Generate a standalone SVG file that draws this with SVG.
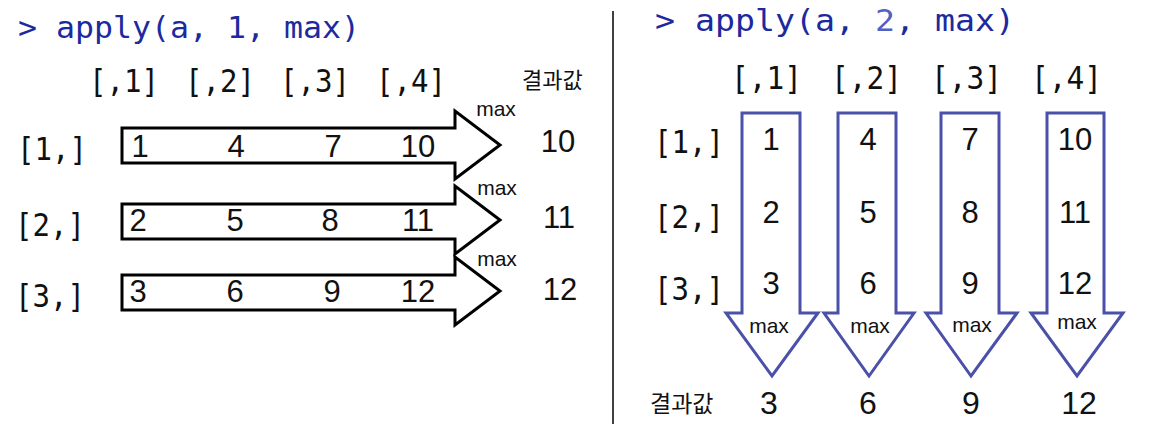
<svg xmlns="http://www.w3.org/2000/svg" width="1151" height="435" viewBox="0 0 1151 435">
<style>
  .mono { font-family: "DejaVu Sans Mono", "Liberation Mono", monospace; }
  .title { fill: #1c2a9e; font-size: 30px; }
  .lbl { font-size: 32px; fill: #111; }
  .val { font-family: "Liberation Sans", "Noto Sans", sans-serif; font-size: 31px; fill: #111; text-anchor: middle; }
  .res { font-family: "Liberation Sans", "Noto Sans", sans-serif; font-size: 31px; fill: #111; text-anchor: middle; }
  .max { font-family: "Liberation Sans", "Noto Sans", sans-serif; font-size: 21px; fill: #111; text-anchor: middle; }
  .ko { font-family: "Noto Sans CJK KR", "Noto Sans", sans-serif; font-size: 22px; fill: #111; }
  .arrL { fill: #fff; stroke: #000; stroke-width: 3; stroke-linejoin: miter; }
  .arrR { fill: #fff; stroke: #4b50a8; stroke-width: 3; stroke-linejoin: miter; }
</style>
<rect width="1151" height="435" fill="#fff"/>

<g id="divider"><line x1="613" y1="11" x2="613" y2="424" stroke="#000" stroke-width="1.5"/></g>

<g id="connectors">
  <polygon id="arrow-row1" class="arrL" points="122,128 455,128 455,111 500,145 455,179 455,163 122,163"/>
  <polygon id="arrow-row2" class="arrL" points="122,204 455,204 455,186 500,220 455,254 455,239 122,239"/>
  <polygon id="arrow-row3" class="arrL" points="122,275 455,275 455,257 500,291 455,325 455,310 122,310"/>
  <polygon id="arrow-col1" class="arrR" points="742,113 800,113 800,313 818,313 772,376 726,313 742,313"/>
  <polygon id="arrow-col2" class="arrR" points="838,113 896,113 896,313 914,313 869,376 824,313 838,313"/>
  <polygon id="arrow-col3" class="arrR" points="941,113 999,113 999,313 1017,313 971,376 926,313 941,313"/>
  <polygon id="arrow-col4" class="arrR" points="1047,113 1104,113 1104,313 1123,313 1077,376 1031,313 1047,313"/>
</g>

<g id="left-panel">
  <g id="title-left"><text class="mono title" x="18" y="38" textLength="342" lengthAdjust="spacingAndGlyphs">&gt; apply(a, 1, max)</text></g>
  <g id="header-left" class="mono lbl">
    <text x="89" y="92" textLength="70" lengthAdjust="spacingAndGlyphs">[,1]</text>
    <text x="185" y="92" textLength="70" lengthAdjust="spacingAndGlyphs">[,2]</text>
    <text x="280" y="92" textLength="70" lengthAdjust="spacingAndGlyphs">[,3]</text>
    <text x="376" y="92" textLength="70" lengthAdjust="spacingAndGlyphs">[,4]</text>
  </g>
  <g id="result-label-left"><text class="ko" x="522" y="88">결과값</text></g>
  <g id="rows-left" class="mono lbl">
    <text x="17" y="160" textLength="70" lengthAdjust="spacingAndGlyphs">[1,]</text>
    <text x="15" y="236" textLength="70" lengthAdjust="spacingAndGlyphs">[2,]</text>
    <text x="15" y="307" textLength="70" lengthAdjust="spacingAndGlyphs">[3,]</text>
  </g>
  <g id="values-row1" class="val">
    <text x="140" y="157">1</text><text x="236" y="157">4</text><text x="333" y="157">7</text><text x="418" y="157">10</text>
  </g>
  <g id="values-row2" class="val">
    <text x="138" y="231">2</text><text x="235" y="231">5</text><text x="330" y="231">8</text><text x="418" y="231">11</text>
  </g>
  <g id="values-row3" class="val">
    <text x="138" y="302">3</text><text x="235" y="302">6</text><text x="332" y="302">9</text><text x="418" y="302">12</text>
  </g>
  <g id="max-left" class="max">
    <text x="496" y="116">max</text><text x="497" y="195">max</text><text x="497" y="266">max</text>
  </g>
  <g id="results-left" class="res">
    <text x="558" y="152">10</text><text x="559" y="228">11</text><text x="560" y="300">12</text>
  </g>
</g>

<g id="right-panel">
  <g id="title-right"><text class="mono title" x="655" y="31" textLength="360" lengthAdjust="spacingAndGlyphs">&gt; apply(a, <tspan fill="#5060c4">2</tspan>, max)</text></g>
  <g id="header-right" class="mono lbl">
    <text x="731" y="89" textLength="71" lengthAdjust="spacingAndGlyphs">[,1]</text>
    <text x="831" y="89" textLength="71" lengthAdjust="spacingAndGlyphs">[,2]</text>
    <text x="931" y="89" textLength="71" lengthAdjust="spacingAndGlyphs">[,3]</text>
    <text x="1031" y="89" textLength="71" lengthAdjust="spacingAndGlyphs">[,4]</text>
  </g>
  <g id="rows-right" class="mono lbl">
    <text x="654" y="153" textLength="70" lengthAdjust="spacingAndGlyphs">[1,]</text>
    <text x="654" y="228" textLength="70" lengthAdjust="spacingAndGlyphs">[2,]</text>
    <text x="654" y="300" textLength="70" lengthAdjust="spacingAndGlyphs">[3,]</text>
  </g>
  <g id="values-col1" class="val">
    <text x="771" y="150">1</text><text x="771" y="223">2</text><text x="771" y="294">3</text>
  </g>
  <g id="values-col2" class="val">
    <text x="868" y="150">4</text><text x="868" y="223">5</text><text x="868" y="294">6</text>
  </g>
  <g id="values-col3" class="val">
    <text x="970" y="150">7</text><text x="970" y="223">8</text><text x="970" y="294">9</text>
  </g>
  <g id="values-col4" class="val">
    <text x="1075" y="150">10</text><text x="1075" y="223">11</text><text x="1075" y="294">12</text>
  </g>
  <g id="max-right" class="max">
    <text x="769" y="333">max</text><text x="870" y="333">max</text><text x="972" y="332">max</text><text x="1077" y="329">max</text>
  </g>
  <g id="result-label-right"><text class="ko" x="650" y="412" style="font-size:23px">결과값</text></g>
  <g id="results-right" class="res" style="font-size:32px">
    <text x="769" y="414">3</text><text x="868" y="414">6</text><text x="971" y="414">9</text><text x="1079" y="414">12</text>
  </g>
</g>
</svg>
